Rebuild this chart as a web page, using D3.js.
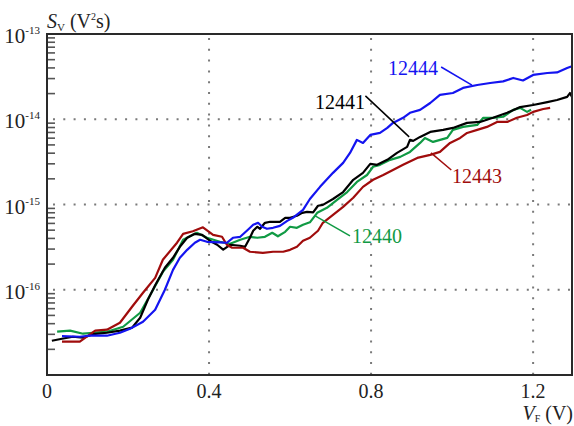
<!DOCTYPE html>
<html>
<head>
<meta charset="utf-8">
<script src="https://cdn.jsdelivr.net/npm/d3@7"></script>
<style>
  html, body { margin: 0; padding: 0; background: #fff; }
  svg text { font-family: "Liberation Serif", "Times New Roman", Times, serif; }
</style>
</head>
<body>
<svg id="chart" width="574" height="426"></svg>
<script>
// Noise spectral density S_V (V^2 s) versus forward bias V_F (V), four samples.
const seriesNames = ["12440", "12441", "12443", "12444"];
const seriesColors = ["#109a44", "#000000", "#a00c0c", "#1414f0"];

// [V_F, S_V] pairs per sample
const curve12441 = [
  [0.012, 2.52e-17], [0.037, 2.66e-17], [0.064, 2.81e-17], [0.089, 2.74e-17], [0.114, 3.01e-17],
  [0.148, 3.13e-17], [0.180, 3.31e-17], [0.210, 3.59e-17], [0.230, 4.70e-17], [0.249, 7.64e-17],
  [0.267, 1.13e-16], [0.291, 1.81e-16], [0.311, 2.37e-16], [0.328, 3.19e-16], [0.346, 4.07e-16],
  [0.365, 4.53e-16], [0.383, 4.41e-16], [0.402, 3.76e-16], [0.420, 3.37e-16], [0.435, 2.95e-16],
  [0.452, 3.37e-16], [0.477, 3.28e-16], [0.489, 3.19e-16], [0.501, 4.07e-16], [0.509, 4.92e-16],
  [0.519, 5.48e-16], [0.526, 5.19e-16], [0.538, 6.10e-16], [0.551, 6.27e-16], [0.575, 6.27e-16],
  [0.588, 6.98e-16], [0.600, 6.98e-16], [0.617, 7.37e-16], [0.630, 7.99e-16], [0.642, 8.21e-16],
  [0.657, 8.10e-16], [0.669, 9.66e-16], [0.681, 9.90e-16], [0.706, 1.16e-15], [0.731, 1.40e-15],
  [0.756, 1.95e-15], [0.780, 2.35e-15], [0.798, 3.00e-15], [0.815, 2.92e-15], [0.840, 3.34e-15],
  [0.864, 4.03e-15], [0.889, 4.74e-15], [0.896, 5.73e-15], [0.904, 5.57e-15], [0.921, 6.21e-15],
  [0.946, 7.10e-15], [0.978, 7.50e-15], [1.002, 7.91e-15], [1.037, 9.06e-15], [1.069, 9.30e-15],
  [1.101, 1.04e-14], [1.136, 1.19e-14], [1.168, 1.39e-14], [1.200, 1.47e-14], [1.235, 1.59e-14],
  [1.259, 1.68e-14], [1.284, 1.83e-14], [1.291, 2.03e-14], [1.296, 1.83e-14]
];

const curve12444 = [
  [0.037, 2.85e-17], [0.081, 2.81e-17], [0.106, 2.89e-17], [0.148, 2.89e-17], [0.180, 3.13e-17],
  [0.205, 3.49e-17], [0.237, 4.22e-17], [0.267, 5.83e-17], [0.291, 1.00e-16], [0.311, 1.71e-16],
  [0.328, 2.37e-16], [0.346, 2.94e-16], [0.365, 3.56e-16], [0.378, 3.86e-16], [0.395, 3.65e-16],
  [0.427, 3.60e-16], [0.444, 3.56e-16], [0.459, 4.07e-16], [0.477, 4.18e-16], [0.496, 5.05e-16],
  [0.509, 5.78e-16], [0.521, 6.10e-16], [0.531, 5.48e-16], [0.543, 5.19e-16], [0.558, 5.33e-16],
  [0.575, 5.62e-16], [0.593, 6.43e-16], [0.607, 6.98e-16], [0.632, 8.66e-16], [0.649, 1.16e-15],
  [0.674, 1.61e-15], [0.706, 2.35e-15], [0.731, 3.08e-15], [0.748, 4.03e-15], [0.765, 5.73e-15],
  [0.780, 5.28e-15], [0.798, 6.55e-15], [0.822, 6.91e-15], [0.840, 7.91e-15], [0.854, 9.06e-15],
  [0.879, 1.04e-14], [0.896, 1.19e-14], [0.921, 1.29e-14], [0.946, 1.55e-14], [0.970, 1.93e-14],
  [1.002, 2.03e-14], [1.027, 2.33e-14], [1.062, 2.52e-14], [1.094, 2.66e-14], [1.126, 2.78e-14],
  [1.151, 3.05e-14], [1.175, 2.85e-14], [1.200, 3.31e-14], [1.235, 3.49e-14], [1.259, 3.54e-14],
  [1.284, 4.00e-14], [1.294, 4.16e-14]
];

const curve12440 = [
  [0.025, 3.22e-17], [0.057, 3.31e-17], [0.089, 3.05e-17], [0.114, 3.13e-17], [0.148, 3.22e-17],
  [0.188, 3.68e-17], [0.230, 5.37e-17], [0.262, 1.00e-16], [0.286, 1.62e-16], [0.311, 2.25e-16],
  [0.336, 3.86e-16], [0.370, 4.66e-16], [0.395, 4.07e-16], [0.427, 3.65e-16], [0.452, 3.46e-16],
  [0.477, 3.86e-16], [0.501, 4.18e-16], [0.519, 4.07e-16], [0.538, 4.18e-16], [0.556, 4.66e-16],
  [0.570, 4.24e-16], [0.588, 4.78e-16], [0.600, 5.48e-16], [0.617, 5.33e-16], [0.632, 5.78e-16],
  [0.649, 6.18e-16], [0.667, 7.99e-16], [0.691, 9.14e-16], [0.716, 1.13e-15], [0.741, 1.40e-15],
  [0.765, 1.84e-15], [0.790, 2.22e-15], [0.805, 2.77e-15], [0.822, 2.92e-15], [0.847, 3.34e-15],
  [0.872, 3.62e-15], [0.896, 4.14e-15], [0.921, 5.28e-15], [0.933, 6.04e-15], [0.953, 5.42e-15],
  [0.988, 6.04e-15], [1.002, 7.50e-15], [1.027, 8.13e-15], [1.062, 8.58e-15], [1.077, 1.04e-14],
  [1.101, 1.04e-14], [1.126, 1.07e-14], [1.151, 1.29e-14], [1.168, 1.36e-14], [1.185, 1.22e-14],
  [1.195, 1.29e-14]
];

const curve12443 = [
  [0.037, 2.46e-17], [0.081, 2.46e-17], [0.119, 3.31e-17], [0.148, 3.40e-17], [0.180, 4.10e-17],
  [0.210, 6.32e-17], [0.237, 9.22e-17], [0.267, 1.38e-16], [0.286, 2.25e-16], [0.321, 3.56e-16],
  [0.336, 4.53e-16], [0.360, 4.85e-16], [0.385, 5.40e-16], [0.410, 4.41e-16], [0.432, 4.18e-16],
  [0.444, 3.37e-16], [0.457, 3.11e-16], [0.484, 3.11e-16], [0.501, 2.79e-16], [0.533, 2.71e-16],
  [0.558, 2.79e-16], [0.583, 2.79e-16], [0.600, 2.94e-16], [0.617, 3.19e-16], [0.632, 3.75e-16],
  [0.649, 4.07e-16], [0.669, 4.92e-16], [0.681, 6.10e-16], [0.706, 7.57e-16], [0.731, 9.39e-16],
  [0.756, 1.20e-15], [0.780, 1.61e-15], [0.805, 1.95e-15], [0.830, 2.22e-15], [0.854, 2.54e-15],
  [0.879, 2.92e-15], [0.914, 3.52e-15], [0.946, 3.82e-15], [0.970, 4.14e-15], [0.995, 5.28e-15],
  [1.020, 6.04e-15], [1.037, 6.91e-15], [1.062, 7.50e-15], [1.086, 8.13e-15], [1.111, 9.30e-15],
  [1.136, 9.30e-15], [1.160, 1.04e-14], [1.185, 1.12e-14], [1.200, 1.22e-14], [1.225, 1.32e-14],
  [1.242, 1.36e-14]
];

const seriesData = [curve12440, curve12441, curve12443, curve12444];

// axis ticks
const xTicks = [0, 0.4, 0.8, 1.2];
const xTickLabels = ["0", "0.4", "0.8", "1.2"];
const yDecades = [-16, -15, -14, -13];

// label placement in data units: text anchor point and leader line ends
const annotations = [
  { name: "12444", anchor: "start", at: [0.842, 3.31e-14], from: [0.973, 4.10e-14], to: [1.049, 2.52e-14] },
  { name: "12441", anchor: "end",   at: [0.785, 1.32e-14], from: [0.786, 1.88e-14], to: [0.894, 6.21e-15] },
  { name: "12443", anchor: "start", at: [1.000, 1.80e-15], from: [0.998, 2.54e-15], to: [0.948, 4.03e-15] },
  { name: "12440", anchor: "start", at: [0.753, 3.56e-16], from: [0.748, 4.29e-16], to: [0.662, 7.37e-16] }
];

const serif = '"Liberation Serif", "Times New Roman", Times, serif';
const svg = d3.select("#chart").attr("font-family", serif);
const plot = { left: 47, right: 572, top: 34, bottom: 375 };

const x = d3.scaleLinear().domain([0, 1.296]).range([plot.left, plot.right]);
const y = d3.scaleLog().domain([1e-17, 1e-13]).range([plot.bottom, plot.top]);

svg.append("defs").append("clipPath").attr("id", "plotClip")
  .append("rect")
  .attr("x", plot.left).attr("y", plot.top)
  .attr("width", plot.right - plot.left).attr("height", plot.bottom - plot.top);

// dotted grid
const grid = svg.append("g").attr("stroke", "#7a7a7a").attr("stroke-width", 2)
  .attr("fill", "none");
grid.selectAll("line.h").data(yDecades.slice(0, 3)).join("line")
  .attr("class", "h")
  .attr("x1", plot.left + 6).attr("x2", plot.right)
  .attr("y1", d => y(Math.pow(10, d))).attr("y2", d => y(Math.pow(10, d)))
  .attr("stroke-dasharray", "2,8.3");
grid.selectAll("line.v").data(xTicks.slice(1)).join("line")
  .attr("class", "v")
  .attr("x1", d => x(d)).attr("x2", d => x(d))
  .attr("y1", plot.top + 4).attr("y2", plot.bottom)
  .attr("stroke-dasharray", "2,8.8");

// minor ticks on the left axis, pointing inward
const minorVals = [];
for (let e = -17; e < -13; e++) {
  for (let k = 2; k <= 9; k++) minorVals.push(k * Math.pow(10, e));
}
svg.append("g").attr("stroke", "#555").attr("stroke-width", 1.6)
  .selectAll("line").data(minorVals).join("line")
  .attr("x1", plot.left).attr("x2", plot.left + 8)
  .attr("y1", d => y(d)).attr("y2", d => y(d));

// curves
const line = d3.line().x(d => x(d[0])).y(d => y(d[1]));
svg.append("g").attr("clip-path", "url(#plotClip)")
  .selectAll("path").data(seriesData).join("path")
  .attr("d", line)
  .attr("fill", "none")
  .attr("stroke", (d, i) => seriesColors[i])
  .attr("stroke-width", 2.2)
  .attr("stroke-linejoin", "round");

// frame
svg.append("rect")
  .attr("x", plot.left).attr("y", plot.top)
  .attr("width", plot.right - plot.left).attr("height", plot.bottom - plot.top)
  .attr("fill", "none").attr("stroke", "#2a2a2a").attr("stroke-width", 2);

// x tick labels
svg.append("g").selectAll("text").data(xTicks).join("text")
  .attr("x", d => x(d)).attr("y", 398)
  .attr("text-anchor", "middle")
  .attr("font-family", serif)
  .attr("font-size", 20).attr("fill", "#222")
  .text((d, i) => xTickLabels[i]);

// y tick labels 10^n
const yl = svg.append("g").selectAll("text").data(yDecades).join("text")
  .attr("x", 40).attr("y", d => y(Math.pow(10, d)) + 9)
  .attr("font-family", serif)
  .attr("text-anchor", "end").attr("fill", "#222");
yl.append("tspan").attr("font-size", 21).text("10");
yl.append("tspan").attr("font-size", 11).attr("dy", -9).text(d => String(d));

// axis titles
const yt = svg.append("text").attr("x", 47).attr("y", 28).attr("fill", "#222")
  .attr("font-family", serif).attr("font-size", 20);
yt.append("tspan").attr("font-style", "italic").text("S");
yt.append("tspan").attr("font-size", 11).attr("dy", 3).text("V");
yt.append("tspan").attr("dy", -3).text(" (V");
yt.append("tspan").attr("font-size", 10).attr("dy", -8).text("2");
yt.append("tspan").attr("dy", 8).text("s)");

const xt = svg.append("text").attr("x", 573).attr("y", 420).attr("text-anchor", "end")
  .attr("font-family", serif).attr("fill", "#222").attr("font-size", 20);
xt.append("tspan").attr("font-style", "italic").text("V");
xt.append("tspan").attr("font-size", 10).attr("dy", 2).text("F");
xt.append("tspan").attr("dy", -2).text(" (V)");

// series labels with leader lines
const colorOf = name => seriesColors[seriesNames.indexOf(name)];
const ann = svg.append("g");
ann.selectAll("line").data(annotations).join("line")
  .attr("x1", d => x(d.from[0])).attr("y1", d => y(d.from[1]))
  .attr("x2", d => x(d.to[0])).attr("y2", d => y(d.to[1]))
  .attr("stroke", d => colorOf(d.name)).attr("stroke-width", 1.5);
ann.selectAll("text").data(annotations).join("text")
  .attr("x", d => x(d.at[0])).attr("y", d => y(d.at[1]))
  .attr("text-anchor", d => d.anchor)
  .attr("font-family", serif)
  .attr("font-size", 20)
  .attr("fill", d => colorOf(d.name))
  .text(d => d.name);
</script>
</body>
</html>
